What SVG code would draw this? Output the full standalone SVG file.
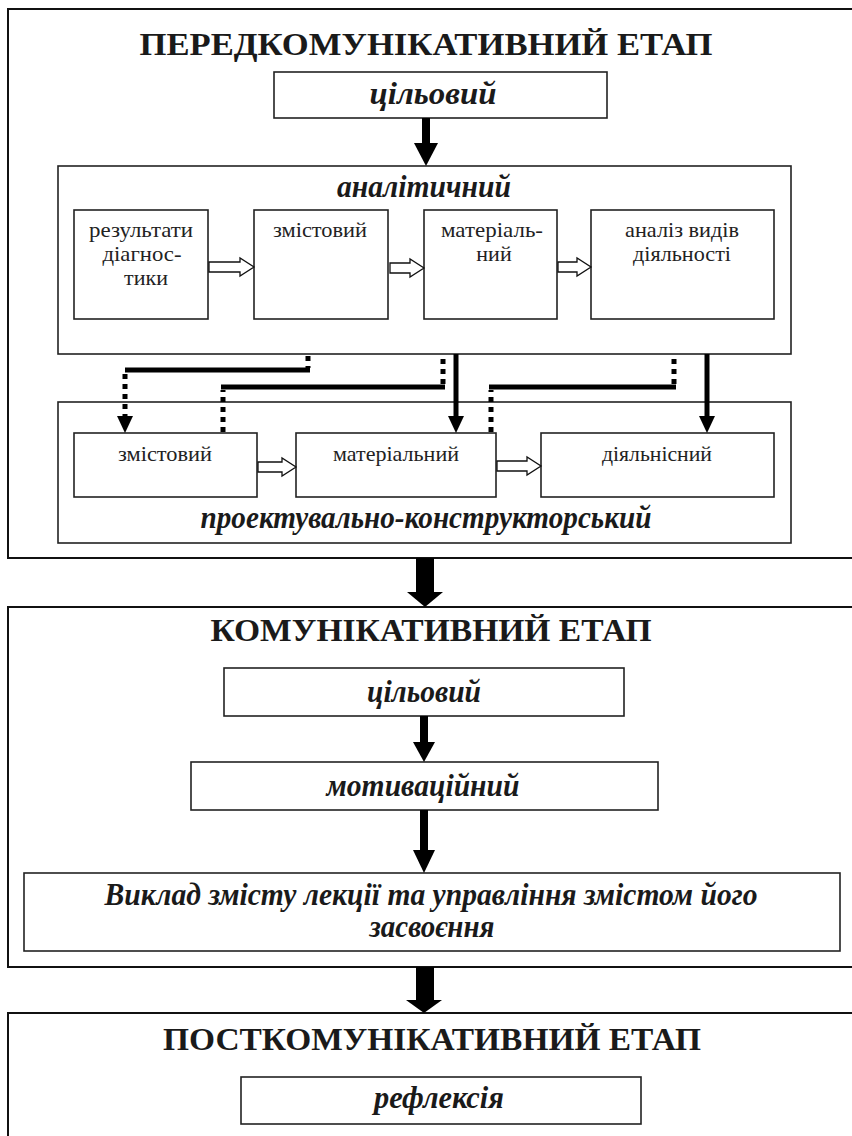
<svg xmlns="http://www.w3.org/2000/svg" width="852" height="1136" viewBox="0 0 852 1136">
<style>
.frame{fill:#fff;stroke:#111;stroke-width:2}
.box{fill:#fff;stroke:#222;stroke-width:1.6}
.title{font-family:"Liberation Serif","Times New Roman",serif;font-weight:bold;font-size:32px;fill:#1a1a1a;text-anchor:middle}
.lab{font-family:"Liberation Serif","Times New Roman",serif;font-weight:bold;font-style:italic;font-size:31px;fill:#1a1a1a;text-anchor:middle}
.txt{font-family:"Liberation Serif","Times New Roman",serif;font-size:22px;fill:#222;text-anchor:middle}
.dash{fill:none;stroke:#000;stroke-width:5;stroke-dasharray:5 5}
.solid{fill:none;stroke:#000;stroke-width:5}
.head{fill:#000}
.hollow{fill:#fff;stroke:#111;stroke-width:1.3}
</style>
<rect width="852" height="1136" fill="#fff"/>

<g id="stage1">
<rect class="frame" x="8" y="9" width="850" height="549"/>
<text class="title" x="426" y="55" textLength="573" lengthAdjust="spacingAndGlyphs">ПЕРЕДКОМУНІКАТИВНИЙ ЕТАП</text>
</g>
<g id="goal1">
<rect class="box" x="274" y="72" width="333" height="46"/>
<text class="lab" x="433" y="104" textLength="127" lengthAdjust="spacingAndGlyphs">цільовий</text>
</g>
<g id="analytic">
<rect class="box" x="58" y="166" width="733" height="188"/>
<text class="lab" x="424" y="197" textLength="174" lengthAdjust="spacingAndGlyphs">аналітичний</text>
</g>
<g id="a1">
<rect class="box" x="74" y="210" width="134" height="109"/>
<text class="txt" x="141" y="237" textLength="104" lengthAdjust="spacingAndGlyphs">результати</text>
<text class="txt" x="142" y="261" textLength="79" lengthAdjust="spacingAndGlyphs">діагнос-</text>
<text class="txt" x="146" y="285">тики</text>
</g>
<g id="a2">
<rect class="box" x="254" y="210" width="134" height="109"/>
<text class="txt" x="320" y="237" textLength="94" lengthAdjust="spacingAndGlyphs">змістовий</text>
</g>
<g id="a3">
<rect class="box" x="424" y="210" width="133" height="109"/>
<text class="txt" x="492" y="237" textLength="102" lengthAdjust="spacingAndGlyphs">матеріаль-</text>
<text class="txt" x="494" y="261">ний</text>
</g>
<g id="a4">
<rect class="box" x="591" y="210" width="183" height="109"/>
<text class="txt" x="682" y="237" textLength="114" lengthAdjust="spacingAndGlyphs">аналіз видів</text>
<text class="txt" x="682" y="261" textLength="98" lengthAdjust="spacingAndGlyphs">діяльності</text>
</g>
<g id="design">
<rect class="box" x="58" y="402" width="733" height="141"/>
<text class="lab" x="426" y="528" textLength="451" lengthAdjust="spacingAndGlyphs">проектувально-конструкторський</text>
</g>
<g id="d1">
<rect class="box" x="74" y="433" width="183" height="64"/>
<text class="txt" x="165" y="461" textLength="94" lengthAdjust="spacingAndGlyphs">змістовий</text>
</g>
<g id="d2">
<rect class="box" x="296" y="433" width="200" height="64"/>
<text class="txt" x="396" y="461" textLength="126" lengthAdjust="spacingAndGlyphs">матеріальний</text>
</g>
<g id="d3">
<rect class="box" x="541" y="433" width="233" height="64"/>
<text class="txt" x="657" y="461" textLength="110" lengthAdjust="spacingAndGlyphs">діяльнісний</text>
</g>

<g id="stage2">
<rect class="frame" x="8" y="607" width="850" height="360"/>
<text class="title" x="431" y="641" textLength="441" lengthAdjust="spacingAndGlyphs">КОМУНІКАТИВНИЙ ЕТАП</text>
</g>
<g id="goal2">
<rect class="box" x="224" y="668" width="400" height="48"/>
<text class="lab" x="424" y="702" textLength="114" lengthAdjust="spacingAndGlyphs">цільовий</text>
</g>
<g id="motiv">
<rect class="box" x="191" y="762" width="467" height="48"/>
<text class="lab" x="423" y="796" textLength="193" lengthAdjust="spacingAndGlyphs">мотиваційний</text>
</g>
<g id="lecture">
<rect class="box" x="24" y="873" width="816" height="78"/>
<text class="lab" x="431" y="905" textLength="653" lengthAdjust="spacingAndGlyphs">Виклад змісту лекції та управління змістом його</text>
<text class="lab" x="432" y="937" textLength="125" lengthAdjust="spacingAndGlyphs">засвоєння</text>
</g>

<g id="stage3">
<rect class="frame" x="8" y="1013" width="850" height="140"/>
<text class="title" x="432" y="1050" textLength="538" lengthAdjust="spacingAndGlyphs">ПОСТКОМУНІКАТИВНИЙ ЕТАП</text>
</g>
<g id="reflex">
<rect class="box" x="241" y="1077" width="400" height="47"/>
<text class="lab" x="439" y="1108" textLength="130" lengthAdjust="spacingAndGlyphs">рефлексія</text>
</g>

<g id="connectors">
<rect x="422" y="118" width="8" height="26" fill="#000"/>
<polygon class="head" points="414,143 438,143 426,166"/>
<polygon class="hollow" points="209,262 240,262 240,258 254,267 240,276 240,272 209,272"/>
<polygon class="hollow" points="390,263 410,263 410,259 424,268 410,277 410,273 390,273"/>
<polygon class="hollow" points="558,262 577,262 577,258 591,267 577,276 577,272 558,272"/>
<polygon class="hollow" points="258,462 282,462 282,458 296,467 282,476 282,472 258,472"/>
<polygon class="hollow" points="497,461 527,461 527,457 541,466 527,475 527,471 497,471"/>
<line class="dash" x1="308" y1="356" x2="308" y2="368"/>
<path class="solid" d="M310,370 H125"/>
<line class="dash" x1="125" y1="374" x2="125" y2="417"/>
<polygon class="head" points="117,416 133,416 125,433"/>
<line class="dash" x1="223" y1="432" x2="223" y2="390"/>
<path class="solid" d="M221,387 H445"/>
<line class="dash" x1="443" y1="384" x2="443" y2="356"/>
<line class="solid" x1="456" y1="354" x2="456" y2="418"/>
<polygon class="head" points="448,416 464,416 456,433"/>
<line class="dash" x1="491" y1="432" x2="491" y2="390"/>
<path class="solid" d="M489,387 H676"/>
<line class="dash" x1="674" y1="384" x2="674" y2="356"/>
<line class="solid" x1="707" y1="354" x2="707" y2="418"/>
<polygon class="head" points="699,416 715,416 707,433"/>
<rect x="416" y="558" width="18" height="35" fill="#000"/>
<polygon class="head" points="407,592 443,592 425,607"/>
<rect x="420" y="716" width="8" height="27" fill="#000"/>
<polygon class="head" points="413,742 435,742 424,762"/>
<rect x="420" y="810" width="8" height="41" fill="#000"/>
<polygon class="head" points="413,850 435,850 424,873"/>
<rect x="416" y="967" width="18" height="34" fill="#000"/>
<polygon class="head" points="406,1000 442,1000 424,1013"/>
</g>
</svg>
